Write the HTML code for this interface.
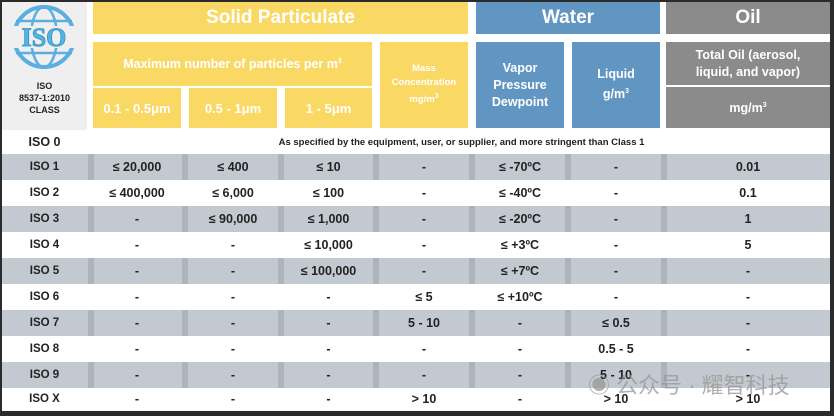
<!DOCTYPE html>
<html><head><meta charset="utf-8"><style>
*{margin:0;padding:0;box-sizing:border-box}
body{width:834px;height:416px;background:#2b2b2b;position:relative;overflow:hidden;font-family:"Liberation Sans","Noto Sans CJK SC",sans-serif;font-weight:bold}
.a{position:absolute;display:flex;align-items:center;justify-content:center;text-align:center}
.y{background:#f9d863;color:#fff}
.b{background:#6296c2;color:#fff}
.g{background:#8b8b8b;color:#fff}
.r{position:absolute;left:2px;width:828px}
.c{position:absolute;display:flex;align-items:center;justify-content:center;font-size:12.5px;color:#222;height:100%}
sup{font-size:7px;vertical-align:super}
</style></head><body>
<div style="position:absolute;left:2px;top:2px;width:828px;height:409px;background:#fff"></div>
<div style="position:absolute;left:2px;top:2px;width:85px;height:128px;background:#efefef"></div>
<svg style="position:absolute;left:8px;top:3px" width="72" height="68" viewBox="0 0 72 68">
<circle cx="36" cy="34" r="30" fill="none" stroke="#5aaee0" stroke-width="4"/>
<ellipse cx="36" cy="34" rx="13" ry="30" fill="none" stroke="#5aaee0" stroke-width="2.5"/>
<line x1="8" y1="18" x2="64" y2="18" stroke="#5aaee0" stroke-width="2.5"/>
<line x1="8" y1="50" x2="64" y2="50" stroke="#5aaee0" stroke-width="2.5"/>
<rect x="4" y="23" width="64" height="22" fill="#efefef"/>
<text x="36" y="43" font-family="Liberation Serif" font-weight="bold" font-size="26" fill="#4fb6ea" stroke="#3a8fc0" stroke-width="0.8" text-anchor="middle">ISO</text>
</svg>
<div class="a" style="left:2px;top:78px;width:85px;height:40px;font-size:9px;color:#222;line-height:12px"><span>ISO<br>8537-1:2010<br>CLASS</span></div>
<div class="a y" style="left:93px;top:2px;width:375px;height:32px;font-size:19px">Solid Particulate</div>
<div class="a b" style="left:476px;top:2px;width:184px;height:32px;font-size:19px">Water</div>
<div class="a g" style="left:666px;top:2px;width:164px;height:32px;font-size:19px">Oil</div>
<div class="a y" style="left:93px;top:42px;width:279px;height:44px;font-size:12.5px"><span>Maximum number of particles per m<sup>3</sup></span></div>
<div class="a y" style="left:93px;top:88px;width:88px;height:40px;font-size:13px">0.1 - 0.5μm</div>
<div class="a y" style="left:189px;top:88px;width:88px;height:40px;font-size:13px">0.5 - 1μm</div>
<div class="a y" style="left:285px;top:88px;width:87px;height:40px;font-size:13px">1 - 5μm</div>
<div class="a y" style="left:380px;top:42px;width:88px;height:86px;font-size:9.5px;line-height:14px"><span>Mass<br>Concentration<br>mg/m<sup>3</sup></span></div>
<div class="a b" style="left:476px;top:42px;width:88px;height:86px;font-size:12.5px;line-height:17px"><span>Vapor<br>Pressure<br>Dewpoint</span></div>
<div class="a b" style="left:572px;top:42px;width:88px;height:86px;font-size:12.5px;line-height:17px"><span>Liquid<br>g/m<sup>3</sup></span></div>
<div class="a g" style="left:666px;top:42px;width:164px;height:43px;font-size:12.5px;line-height:17px"><span>Total Oil (aerosol,<br>liquid, and vapor)</span></div>
<div class="a g" style="left:666px;top:87px;width:164px;height:41px;font-size:12.5px"><span>mg/m<sup>3</sup></span></div>
<div class="r" style="top:130px;height:24px"><div class="c" style="left:0;width:85px">ISO 0</div><div class="c" style="left:91px;width:737px;font-size:9.5px">As specified by the equipment, user, or supplier, and more stringent than Class 1</div></div>
<div id="rows"></div>
<script>
var d=[["ISO 1","≤ 20,000","≤ 400","≤ 10","-","≤ -70ºC","-","0.01"],
["ISO 2","≤ 400,000","≤ 6,000","≤ 100","-","≤ -40ºC","-","0.1"],
["ISO 3","-","≤ 90,000","≤ 1,000","-","≤ -20ºC","-","1"],
["ISO 4","-","-","≤ 10,000","-","≤ +3ºC","-","5"],
["ISO 5","-","-","≤ 100,000","-","≤ +7ºC","-","-"],
["ISO 6","-","-","-","≤ 5","≤ +10ºC","-","-"],
["ISO 7","-","-","-","5 - 10","-","≤ 0.5","-"],
["ISO 8","-","-","-","-","-","0.5 - 5","-"],
["ISO 9","-","-","-","-","-","5 - 10","-"],
["ISO X","-","-","-",">&nbsp;10","-",">&nbsp;10",">&nbsp;10"]];
var xs=[[0,85],[91,88],[187,88],[283,87],[378,88],[474,88],[570,88],[664,164]];
var h="";
for(var i=0;i<10;i++){var t=154+26*i,ht=i==9?22:26,sh=i%2==0;
h+='<div class="r" style="top:'+t+'px;height:'+ht+'px;background:'+(sh?'#c3c9d0':'#fff')+'">';
if(sh){[87,181,277,372,468,564,660].forEach(function(x){h+='<div style="position:absolute;left:'+(x-1)+'px;top:0;width:6px;height:100%;background:#adb4bc"></div>'});}
for(var j=0;j<8;j++)h+='<div class="c" style="left:'+xs[j][0]+'px;width:'+xs[j][1]+'px;font-size:'+(j==0?11.5:12.5)+'px">'+d[i][j]+'</div>';
h+='</div>';}
document.getElementById("rows").innerHTML=h;
</script>
<div style="position:absolute;left:588px;top:368px;font-size:22px;font-weight:normal;color:rgba(150,150,150,0.75)">◉ 公众号 · 耀智科技</div>
</body></html>
